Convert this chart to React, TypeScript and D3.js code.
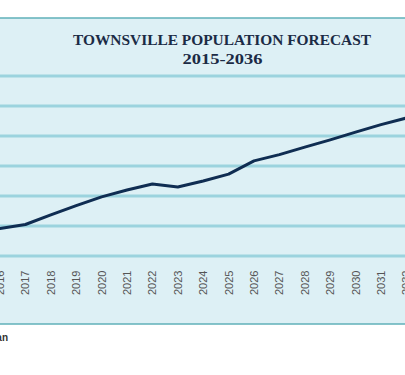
import React from "react";
import * as d3 from "d3";

const years = [2015, 2016, 2017, 2018, 2019, 2020, 2021, 2022, 2023, 2024, 2025, 2026, 2027, 2028, 2029, 2030, 2031, 2032, 2033, 2034, 2035, 2036];
const population = [188300, 189200, 190500, 193700, 196800, 199700, 202000, 204000, 203000, 205000, 207300, 211700, 213800, 216300, 218700, 221300, 223800, 226000, 227200, 229300, 231500, 233600];
const yTicks = [180000, 190000, 200000, 210000, 220000, 230000, 240000];
const titleLines = ["TOWNSVILLE POPULATION FORECAST", "2015-2036"];
const sourceText = "Source: Queensland Government Statistician";

export default function App() {
  const W = 405;
  const H = 375;
  const step = 25.4;
  const x = d3
    .scalePoint<number>()
    .domain(years)
    .range([-step, -step + step * (years.length - 1)]);
  const y = d3.scaleLinear().domain([180000, 240000]).range([256, 76]);
  const line = d3
    .line<number>()
    .x((_, i) => x(years[i]) as number)
    .y((d) => y(d))
    .curve(d3.curveLinear);

  return (
    <svg
      width={W}
      height={H}
      style={{ position: "absolute", left: 0, top: 0, background: "#fff" }}
    >
      <rect x={-50} y={18} width={W + 100} height={306} fill="#ddf0f5" />
      <line x1={-50} x2={W + 50} y1={18} y2={18} stroke="#5fb0b8" strokeWidth={1.5} />
      <line x1={-50} x2={W + 50} y1={324} y2={324} stroke="#5fb0b8" strokeWidth={1.5} />
      {yTicks.map((t) => (
        <line
          key={t}
          x1={-50}
          x2={W + 50}
          y1={y(t)}
          y2={y(t)}
          stroke="#9bd3de"
          strokeWidth={3}
        />
      ))}
      <text
        x={222}
        y={45}
        textAnchor="middle"
        fontFamily="Liberation Serif, serif"
        fontWeight="bold"
        fontSize={15}
        fill="#1b2b45"
        textLength={298}
        lengthAdjust="spacingAndGlyphs"
      >
        {titleLines[0]}
      </text>
      <text
        x={222.5}
        y={64}
        textAnchor="middle"
        fontFamily="Liberation Serif, serif"
        fontWeight="bold"
        fontSize={15}
        fill="#1b2b45"
        textLength={80}
        lengthAdjust="spacingAndGlyphs"
      >
        {titleLines[1]}
      </text>
      <path d={line(population) || ""} fill="none" stroke="#0f2d52" strokeWidth={3} strokeLinejoin="round" />
      {years.map((yr) => {
        const px = x(yr) as number;
        return (
          <text
            key={yr}
            transform={`translate(${px},295) rotate(-90)`}
            dy="0.36em"
            textAnchor="start"
            fontFamily="Liberation Sans, Arial, sans-serif"
            fontSize={11}
            fill="#555"
          >
            {yr}
          </text>
        );
      })}
      <text
        x={8}
        y={341}
        textAnchor="end"
        fontFamily="Liberation Sans, Arial, sans-serif"
        fontWeight="bold"
        fontSize={10}
        fill="#333"
      >
        {sourceText}
      </text>
    </svg>
  );
}
